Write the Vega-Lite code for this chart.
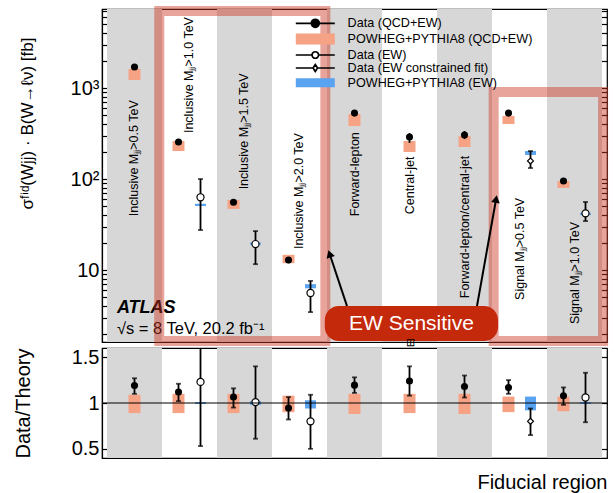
{
  "$schema": "https://vega.github.io/schema/vega-lite/v6.json",
  "padding": {"left": 12, "top": 0, "right": 3, "bottom": 0},
  "spacing": 6,
  "bounds": "flush",
  "config": {
    "font": "Liberation Sans",
    "view": {"stroke": "black", "strokeWidth": 1.2},
    "axis": {"grid": false, "domainColor": "black", "tickColor": "black", "labelColor": "black", "titleColor": "black", "titleFontWeight": "normal", "labelFont": "Liberation Sans", "titleFont": "Liberation Sans"},
    "text": {"font": "Liberation Sans"}
  },
  "datasets": {
    "cats": [
      {"cat": "Inclusive Mⱼⱼ>0.5 TeV", "shade": true, "ly": 39},
      {"cat": "Inclusive Mⱼⱼ>1.0 TeV", "shade": false, "ly": 320},
      {"cat": "Inclusive Mⱼⱼ>1.5 TeV", "shade": true, "ly": 77},
      {"cat": "Inclusive Mⱼⱼ>2.0 TeV", "shade": false, "ly": 17},
      {"cat": "Forward-lepton", "shade": true, "ly": 39},
      {"cat": "Central-jet", "shade": false, "ly": 41},
      {"cat": "Forward-lepton/central-jet", "shade": true, "ly": 4.9},
      {"cat": "Signal Mⱼⱼ>0.5 TeV", "shade": false, "ly": 4.7},
      {"cat": "Signal Mⱼⱼ>1.0 TeV", "shade": true, "ly": 2.55}
    ],
    "xs": [
      {"cat": "Inclusive Mⱼⱼ>0.5 TeV", "series": "Data (QCD+EW)", "slot": "C", "v": 1700, "lo": 1640, "hi": 1760},
      {"cat": "Inclusive Mⱼⱼ>0.5 TeV", "series": "POWHEG+PYTHIA8 (QCD+EW)", "slot": "C", "lo": 1225, "hi": 1620},
      {"cat": "Inclusive Mⱼⱼ>1.0 TeV", "series": "Data (QCD+EW)", "slot": "L", "v": 255, "lo": 243, "hi": 268},
      {"cat": "Inclusive Mⱼⱼ>1.0 TeV", "series": "POWHEG+PYTHIA8 (QCD+EW)", "slot": "L", "lo": 203, "hi": 262},
      {"cat": "Inclusive Mⱼⱼ>1.0 TeV", "series": "Data (EW)", "slot": "R", "v": 63, "lo": 27.5, "hi": 100},
      {"cat": "Inclusive Mⱼⱼ>1.0 TeV", "series": "POWHEG+PYTHIA8 (EW)", "slot": "R", "lo": 50.5, "hi": 53.5},
      {"cat": "Inclusive Mⱼⱼ>1.5 TeV", "series": "Data (QCD+EW)", "slot": "L", "v": 55.5, "lo": 52, "hi": 59},
      {"cat": "Inclusive Mⱼⱼ>1.5 TeV", "series": "POWHEG+PYTHIA8 (QCD+EW)", "slot": "L", "lo": 47, "hi": 59},
      {"cat": "Inclusive Mⱼⱼ>1.5 TeV", "series": "Data (EW)", "slot": "R", "v": 19.3, "lo": 11.6, "hi": 26.8},
      {"cat": "Inclusive Mⱼⱼ>1.5 TeV", "series": "POWHEG+PYTHIA8 (EW)", "slot": "R", "lo": 19.0, "hi": 20.0},
      {"cat": "Inclusive Mⱼⱼ>2.0 TeV", "series": "Data (QCD+EW)", "slot": "L", "v": 12.9, "lo": 11.9, "hi": 13.9},
      {"cat": "Inclusive Mⱼⱼ>2.0 TeV", "series": "POWHEG+PYTHIA8 (QCD+EW)", "slot": "L", "lo": 11.9, "hi": 14.7},
      {"cat": "Inclusive Mⱼⱼ>2.0 TeV", "series": "Data (EW)", "slot": "R", "v": 5.6, "lo": 3.45, "hi": 7.6},
      {"cat": "Inclusive Mⱼⱼ>2.0 TeV", "series": "POWHEG+PYTHIA8 (EW)", "slot": "R", "lo": 6.3, "hi": 7.0},
      {"cat": "Forward-lepton", "series": "Data (QCD+EW)", "slot": "C", "v": 530, "lo": 505, "hi": 556},
      {"cat": "Forward-lepton", "series": "POWHEG+PYTHIA8 (QCD+EW)", "slot": "C", "lo": 382, "hi": 518},
      {"cat": "Central-jet", "series": "Data (QCD+EW)", "slot": "C", "v": 290, "lo": 250, "hi": 320},
      {"cat": "Central-jet", "series": "POWHEG+PYTHIA8 (QCD+EW)", "slot": "C", "lo": 198, "hi": 262},
      {"cat": "Forward-lepton/central-jet", "series": "Data (QCD+EW)", "slot": "C", "v": 305, "lo": 275, "hi": 337},
      {"cat": "Forward-lepton/central-jet", "series": "POWHEG+PYTHIA8 (QCD+EW)", "slot": "C", "lo": 225, "hi": 297},
      {"cat": "Signal Mⱼⱼ>0.5 TeV", "series": "Data (QCD+EW)", "slot": "L", "v": 530, "lo": 505, "hi": 556},
      {"cat": "Signal Mⱼⱼ>0.5 TeV", "series": "POWHEG+PYTHIA8 (QCD+EW)", "slot": "L", "lo": 402, "hi": 493},
      {"cat": "Signal Mⱼⱼ>0.5 TeV", "series": "Data (EW constrained fit)", "slot": "R", "v": 158, "lo": 132, "hi": 203},
      {"cat": "Signal Mⱼⱼ>0.5 TeV", "series": "POWHEG+PYTHIA8 (EW)", "slot": "R", "lo": 184, "hi": 203},
      {"cat": "Signal Mⱼⱼ>1.0 TeV", "series": "Data (QCD+EW)", "slot": "L", "v": 95, "lo": 89, "hi": 101},
      {"cat": "Signal Mⱼⱼ>1.0 TeV", "series": "POWHEG+PYTHIA8 (QCD+EW)", "slot": "L", "lo": 80, "hi": 95},
      {"cat": "Signal Mⱼⱼ>1.0 TeV", "series": "Data (EW)", "slot": "R", "v": 42, "lo": 34.5, "hi": 56},
      {"cat": "Signal Mⱼⱼ>1.0 TeV", "series": "POWHEG+PYTHIA8 (EW)", "slot": "R", "lo": 40.2, "hi": 42.2}
    ],
    "ratio": [
      {"cat": "Inclusive Mⱼⱼ>0.5 TeV", "series": "Data (QCD+EW)", "slot": "C", "v": 1.19, "lo": 1.10, "hi": 1.27},
      {"cat": "Inclusive Mⱼⱼ>0.5 TeV", "series": "POWHEG+PYTHIA8 (QCD+EW)", "slot": "C", "lo": 0.89, "hi": 1.09},
      {"cat": "Inclusive Mⱼⱼ>1.0 TeV", "series": "Data (QCD+EW)", "slot": "L", "v": 1.12, "lo": 1.02, "hi": 1.21},
      {"cat": "Inclusive Mⱼⱼ>1.0 TeV", "series": "POWHEG+PYTHIA8 (QCD+EW)", "slot": "L", "lo": 0.89, "hi": 1.10},
      {"cat": "Inclusive Mⱼⱼ>1.0 TeV", "series": "Data (EW)", "slot": "R", "v": 1.23, "lo": 0.53, "hi": 1.9},
      {"cat": "Inclusive Mⱼⱼ>1.0 TeV", "series": "POWHEG+PYTHIA8 (EW)", "slot": "R", "lo": 0.99, "hi": 1.01},
      {"cat": "Inclusive Mⱼⱼ>1.5 TeV", "series": "Data (QCD+EW)", "slot": "L", "v": 1.065, "lo": 0.95, "hi": 1.16},
      {"cat": "Inclusive Mⱼⱼ>1.5 TeV", "series": "POWHEG+PYTHIA8 (QCD+EW)", "slot": "L", "lo": 0.89, "hi": 1.10},
      {"cat": "Inclusive Mⱼⱼ>1.5 TeV", "series": "Data (EW)", "slot": "R", "v": 1.01, "lo": 0.61, "hi": 1.40},
      {"cat": "Inclusive Mⱼⱼ>1.5 TeV", "series": "POWHEG+PYTHIA8 (EW)", "slot": "R", "lo": 0.98, "hi": 1.02},
      {"cat": "Inclusive Mⱼⱼ>2.0 TeV", "series": "Data (QCD+EW)", "slot": "L", "v": 0.945, "lo": 0.82, "hi": 1.065},
      {"cat": "Inclusive Mⱼⱼ>2.0 TeV", "series": "POWHEG+PYTHIA8 (QCD+EW)", "slot": "L", "lo": 0.90, "hi": 1.08},
      {"cat": "Inclusive Mⱼⱼ>2.0 TeV", "series": "Data (EW)", "slot": "R", "v": 0.80, "lo": 0.50, "hi": 1.09},
      {"cat": "Inclusive Mⱼⱼ>2.0 TeV", "series": "POWHEG+PYTHIA8 (EW)", "slot": "R", "lo": 0.94, "hi": 1.03},
      {"cat": "Forward-lepton", "series": "Data (QCD+EW)", "slot": "C", "v": 1.195, "lo": 1.11, "hi": 1.28},
      {"cat": "Forward-lepton", "series": "POWHEG+PYTHIA8 (QCD+EW)", "slot": "C", "lo": 0.88, "hi": 1.10},
      {"cat": "Central-jet", "series": "Data (QCD+EW)", "slot": "C", "v": 1.24, "lo": 1.08, "hi": 1.40},
      {"cat": "Central-jet", "series": "POWHEG+PYTHIA8 (QCD+EW)", "slot": "C", "lo": 0.89, "hi": 1.10},
      {"cat": "Forward-lepton/central-jet", "series": "Data (QCD+EW)", "slot": "C", "v": 1.18, "lo": 1.06, "hi": 1.30},
      {"cat": "Forward-lepton/central-jet", "series": "POWHEG+PYTHIA8 (QCD+EW)", "slot": "C", "lo": 0.88, "hi": 1.10},
      {"cat": "Signal Mⱼⱼ>0.5 TeV", "series": "Data (QCD+EW)", "slot": "L", "v": 1.17, "lo": 1.10, "hi": 1.25},
      {"cat": "Signal Mⱼⱼ>0.5 TeV", "series": "POWHEG+PYTHIA8 (QCD+EW)", "slot": "L", "lo": 0.90, "hi": 1.07},
      {"cat": "Signal Mⱼⱼ>0.5 TeV", "series": "Data (EW constrained fit)", "slot": "R", "v": 0.80, "lo": 0.65, "hi": 0.94},
      {"cat": "Signal Mⱼⱼ>0.5 TeV", "series": "POWHEG+PYTHIA8 (EW)", "slot": "R", "lo": 0.92, "hi": 1.07},
      {"cat": "Signal Mⱼⱼ>1.0 TeV", "series": "Data (QCD+EW)", "slot": "L", "v": 1.08, "lo": 0.98, "hi": 1.17},
      {"cat": "Signal Mⱼⱼ>1.0 TeV", "series": "POWHEG+PYTHIA8 (QCD+EW)", "slot": "L", "lo": 0.91, "hi": 1.07},
      {"cat": "Signal Mⱼⱼ>1.0 TeV", "series": "Data (EW)", "slot": "R", "v": 1.06, "lo": 0.79, "hi": 1.33},
      {"cat": "Signal Mⱼⱼ>1.0 TeV", "series": "POWHEG+PYTHIA8 (EW)", "slot": "R", "lo": 0.99, "hi": 1.01}
    ]
  },
  "vconcat": [
    {
      "width": 505,
      "height": 333,
      "resolve": {"scale": {"x": "independent"}, "axis": {"x": "independent", "y": "independent"}},
      "layer": [
        {
          "encoding": {
            "x": {"field": "cat", "type": "nominal", "axis": null,
                  "scale": {"domain": ["Inclusive Mⱼⱼ>0.5 TeV", "Inclusive Mⱼⱼ>1.0 TeV", "Inclusive Mⱼⱼ>1.5 TeV", "Inclusive Mⱼⱼ>2.0 TeV", "Forward-lepton", "Central-jet", "Forward-lepton/central-jet", "Signal Mⱼⱼ>0.5 TeV", "Signal Mⱼⱼ>1.0 TeV"], "paddingInner": 0, "paddingOuter": 0.0909}}
          },
          "layer": [
            {"data": {"name": "cats"}, "transform": [{"filter": "datum.shade"}], "mark": {"type": "rect", "color": "#d7d7d7"}},
            {"data": {"name": "xs"}, "transform": [{"filter": "datum.series == 'POWHEG+PYTHIA8 (QCD+EW)'"}],
             "mark": {"type": "bar", "width": 12, "color": "#f5a285"},
             "encoding": {"xOffset": {"field": "slot", "type": "nominal", "scale": {"domain": ["L", "C", "R"], "paddingInner": 0, "paddingOuter": 3.5}},
                          "y": {"field": "lo", "type": "quantitative", "scale": {"type": "log", "domain": [1.62, 7380], "nice": false}}, "y2": {"field": "hi"}}},
            {"data": {"name": "xs"}, "transform": [{"filter": "datum.series == 'POWHEG+PYTHIA8 (EW)'"}],
             "mark": {"type": "bar", "width": 11, "color": "#5aa3f0"},
             "encoding": {"xOffset": {"field": "slot", "type": "nominal", "scale": {"domain": ["L", "C", "R"], "paddingInner": 0, "paddingOuter": 3.5}},
                          "y": {"field": "lo", "type": "quantitative", "scale": {"type": "log", "domain": [1.62, 7380], "nice": false}}, "y2": {"field": "hi"}}},
            {"data": {"name": "xs"}, "transform": [{"filter": "isValid(datum.v)"}],
             "mark": {"type": "rule", "color": "black", "strokeWidth": 1.8},
             "encoding": {"xOffset": {"field": "slot", "type": "nominal", "scale": {"domain": ["L", "C", "R"], "paddingInner": 0, "paddingOuter": 3.5}},
                          "y": {"field": "lo", "type": "quantitative", "scale": {"type": "log", "domain": [1.62, 7380], "nice": false}}, "y2": {"field": "hi"}}},
            {"data": {"name": "xs"}, "transform": [{"filter": "isValid(datum.v) && datum.series != 'Data (QCD+EW)'"}],
             "mark": {"type": "tick", "color": "black", "size": 5, "thickness": 1.8},
             "encoding": {"xOffset": {"field": "slot", "type": "nominal", "scale": {"domain": ["L", "C", "R"], "paddingInner": 0, "paddingOuter": 3.5}},
                          "y": {"field": "lo", "type": "quantitative", "scale": {"type": "log", "domain": [1.62, 7380], "nice": false}}}},
            {"data": {"name": "xs"}, "transform": [{"filter": "isValid(datum.v) && datum.series != 'Data (QCD+EW)'"}],
             "mark": {"type": "tick", "color": "black", "size": 5, "thickness": 1.8},
             "encoding": {"xOffset": {"field": "slot", "type": "nominal", "scale": {"domain": ["L", "C", "R"], "paddingInner": 0, "paddingOuter": 3.5}},
                          "y": {"field": "hi", "type": "quantitative", "scale": {"type": "log", "domain": [1.62, 7380], "nice": false}}}},
            {"data": {"name": "xs"}, "transform": [{"filter": "datum.series == 'Data (QCD+EW)'"}],
             "mark": {"type": "point", "shape": "circle", "filled": true, "color": "black", "size": 50, "opacity": 1},
             "encoding": {"xOffset": {"field": "slot", "type": "nominal", "scale": {"domain": ["L", "C", "R"], "paddingInner": 0, "paddingOuter": 3.5}},
                          "y": {"field": "v", "type": "quantitative", "scale": {"type": "log", "domain": [1.62, 7380], "nice": false},
                                "axis": {"orient": "left", "values": [2,3,4,5,6,7,8,9,10,20,30,40,50,60,70,80,90,100,200,300,400,500,600,700,800,900,1000,2000,3000,4000,5000,6000,7000],
                                         "labelExpr": "datum.value == 1000 ? '10³' : datum.value == 100 ? '10²' : datum.value == 10 ? '10' : ''",
                                         "tickSize": {"condition": {"test": "datum.value == 10 || datum.value == 100 || datum.value == 1000", "value": -15}, "value": -8},
                                         "tickWidth": 1.2, "domainWidth": 1.2, "labelFontSize": 20, "labelPadding": 18, "labelOverlap": false, "labelFlush": false,
                                         "title": "σᶠⁱᵈ(Wjj) · B(W→ℓν) [fb]", "titleFontSize": 17, "titleY": 114, "titlePadding": 34}}}},
            {"data": {"name": "xs"}, "transform": [{"filter": "datum.series == 'Data (EW)'"}],
             "mark": {"type": "point", "shape": "circle", "filled": true, "fill": "white", "stroke": "black", "strokeWidth": 1.2, "size": 50, "opacity": 1},
             "encoding": {"xOffset": {"field": "slot", "type": "nominal", "scale": {"domain": ["L", "C", "R"], "paddingInner": 0, "paddingOuter": 3.5}},
                          "y": {"field": "v", "type": "quantitative", "scale": {"type": "log", "domain": [1.62, 7380], "nice": false}}}},
            {"data": {"name": "xs"}, "transform": [{"filter": "datum.series == 'Data (EW constrained fit)'"}],
             "mark": {"type": "point", "shape": "diamond", "filled": true, "fill": "white", "stroke": "black", "strokeWidth": 1.2, "size": 35, "opacity": 1},
             "encoding": {"xOffset": {"field": "slot", "type": "nominal", "scale": {"domain": ["L", "C", "R"], "paddingInner": 0, "paddingOuter": 3.5}},
                          "y": {"field": "v", "type": "quantitative", "scale": {"type": "log", "domain": [1.62, 7380], "nice": false}}}},
            {"data": {"name": "cats"},
             "mark": {"type": "text", "angle": 270, "align": "left", "baseline": "middle", "fontSize": 12.5, "color": "black"},
             "encoding": {"y": {"field": "ly", "type": "quantitative", "scale": {"type": "log", "domain": [1.62, 7380], "nice": false}}, "text": {"field": "cat"}}},
            {"data": {"values": [{"series": "Data (QCD+EW)"}]}, "transform": [{"filter": "false"}],
             "mark": {"type": "point", "filled": true},
             "encoding": {
               "shape": {"field": "series", "type": "nominal",
                         "scale": {"domain": ["Data (QCD+EW)", "POWHEG+PYTHIA8 (QCD+EW)", "Data (EW)", "Data (EW constrained fit)", "POWHEG+PYTHIA8 (EW)"],
                                   "range": ["M-3.9,0H3.9M0.8,0A0.8,0.8,0,1,1,-0.8,0A0.8,0.8,0,1,1,0.8,0Z", "M-3.9,-1.1H3.9V1.1H-3.9Z", "M-3.9,0H-0.65M0.65,0H3.9M0.65,0A0.65,0.65,0,1,1,-0.65,0A0.65,0.65,0,1,1,0.65,0Z", "M-3.9,0H-0.45M0.45,0H3.9M0.45,0L0,-0.7L-0.45,0L0,0.7Z", "M-3.9,-0.9H3.9V0.9H-3.9Z"]},
                         "legend": {"title": null, "orient": "none", "legendX": 207, "legendY": 8, "symbolSize": 100, "symbolStrokeWidth": 1.7, "labelFontSize": 12.6, "labelFont": "Liberation Sans", "labelColor": "black", "labelOffset": 26, "rowPadding": -1.3, "padding": 0, "symbolOpacity": 1, "labelLimit": 300}},
               "fill": {"field": "series", "type": "nominal",
                        "scale": {"domain": ["Data (QCD+EW)", "POWHEG+PYTHIA8 (QCD+EW)", "Data (EW)", "Data (EW constrained fit)", "POWHEG+PYTHIA8 (EW)"],
                                  "range": ["black", "#f5a285", "white", "white", "#5aa3f0"]},
                        "legend": {"title": null, "orient": "none", "legendX": 207, "legendY": 8, "symbolSize": 100, "symbolStrokeWidth": 1.7, "labelFontSize": 12.6, "labelFont": "Liberation Sans", "labelColor": "black", "labelOffset": 26, "rowPadding": -1.3, "padding": 0, "symbolOpacity": 1, "labelLimit": 300}},
               "stroke": {"field": "series", "type": "nominal",
                          "scale": {"domain": ["Data (QCD+EW)", "POWHEG+PYTHIA8 (QCD+EW)", "Data (EW)", "Data (EW constrained fit)", "POWHEG+PYTHIA8 (EW)"],
                                    "range": ["black", "rgba(0,0,0,0)", "black", "black", "rgba(0,0,0,0)"]},
                          "legend": {"title": null, "orient": "none", "legendX": 207, "legendY": 8, "symbolSize": 100, "symbolStrokeWidth": 1.7, "labelFontSize": 12.6, "labelFont": "Liberation Sans", "labelColor": "black", "labelOffset": 26, "rowPadding": -1.3, "padding": 0, "symbolOpacity": 1, "labelLimit": 300}}
             }}
          ]
        },
        {
          "encoding": {
            "x": {"field": "x", "type": "quantitative", "axis": null, "scale": {"domain": [-0.0909, 9.0909], "nice": false, "zero": false}},
            "y": {"field": "y", "type": "quantitative", "scale": {"type": "log", "domain": [1.62, 7380], "nice": false},
                  "axis": {"orient": "right", "title": null, "labels": false, "domain": false,
                           "values": [2,3,4,5,6,7,8,9,10,20,30,40,50,60,70,80,90,100,200,300,400,500,600,700,800,900,1000,2000,3000,4000,5000,6000,7000],
                           "tickSize": {"condition": {"test": "datum.value == 10 || datum.value == 100 || datum.value == 1000", "value": -15}, "value": -8}, "tickWidth": 1.2}}
          },
          "layer": [
            {"data": {"values": [{"x": 0.18, "y": 3.41, "t": "ATLAS"}]},
             "mark": {"type": "text", "align": "left", "baseline": "alphabetic", "fontSize": 18, "fontWeight": "bold", "fontStyle": "italic", "color": "black"},
             "encoding": {"text": {"field": "t"}}},
            {"data": {"values": [{"x": 0.18, "y": 1.98, "t": "√s = 8 TeV, 20.2 fb⁻¹"}]},
             "mark": {"type": "text", "align": "left", "baseline": "alphabetic", "fontSize": 16.5, "color": "black"},
             "encoding": {"text": {"field": "t"}}},
            {"data": {"values": [{"x": 0.95, "x2": 3.97, "y": 7000, "y2": 1.66}, {"x": 7.03, "x2": 9.02, "y": 904, "y2": 1.66}]},
             "mark": {"type": "rect", "fill": "transparent", "stroke": "#cc3322", "strokeOpacity": 0.45, "strokeWidth": 10},
             "encoding": {"x2": {"field": "x2"}, "y2": {"field": "y2"}}},
            {"data": {"values": [{"a": "1", "x": 4.364, "y": 4.02}, {"a": "1", "x": 4.047, "y": 15.1}, {"a": "2", "x": 6.727, "y": 4.02}, {"a": "2", "x": 7.075, "y": 60.4}]},
             "mark": {"type": "line", "color": "black", "strokeWidth": 2},
             "encoding": {"detail": {"field": "a"}}},
            {"data": {"values": [{"x": 4.047, "y": 15.1}]},
             "mark": {"type": "point", "shape": "triangle-up", "filled": true, "color": "black", "size": 75, "angle": 341.6, "opacity": 1}},
            {"data": {"values": [{"x": 7.075, "y": 60.4}]},
             "mark": {"type": "point", "shape": "triangle-up", "filled": true, "color": "black", "size": 75, "angle": 10.1, "opacity": 1}},
            {"data": {"values": [{"x": 3.96, "x2": 7.11, "y": 4.02, "y2": 1.66}]},
             "mark": {"type": "rect", "color": "#c4290c", "cornerRadius": 14},
             "encoding": {"x2": {"field": "x2"}, "y2": {"field": "y2"}}},
            {"data": {"values": [{"x": 5.536, "y": 2.58, "t": "EW Sensitive"}]},
             "mark": {"type": "text", "align": "center", "baseline": "middle", "fontSize": 21, "color": "white"},
             "encoding": {"text": {"field": "t"}}},
            {"data": {"values": [{"x": 5.527, "y": 1.58, "t": "⊞"}]},
             "mark": {"type": "text", "align": "center", "baseline": "middle", "fontSize": 11, "color": "black"},
             "encoding": {"text": {"field": "t"}}}
          ]
        }
      ]
    },
    {
      "width": 505,
      "height": 110,
      "resolve": {"axis": {"y": "independent"}},
      "layer": [
        {
          "encoding": {
            "x": {"field": "cat", "type": "nominal",
                  "axis": {"title": "Fiducial region", "titleAnchor": "end", "titleFontSize": 20, "labels": false, "ticks": false, "domain": false, "titlePadding": 14},
                  "scale": {"domain": ["Inclusive Mⱼⱼ>0.5 TeV", "Inclusive Mⱼⱼ>1.0 TeV", "Inclusive Mⱼⱼ>1.5 TeV", "Inclusive Mⱼⱼ>2.0 TeV", "Forward-lepton", "Central-jet", "Forward-lepton/central-jet", "Signal Mⱼⱼ>0.5 TeV", "Signal Mⱼⱼ>1.0 TeV"], "paddingInner": 0, "paddingOuter": 0.0909}}
          },
          "layer": [
            {"data": {"name": "cats"}, "transform": [{"filter": "datum.shade"}], "mark": {"type": "rect", "color": "#d7d7d7"}},
            {"data": {"name": "ratio"}, "transform": [{"filter": "datum.series == 'POWHEG+PYTHIA8 (QCD+EW)'"}],
             "mark": {"type": "bar", "width": 12, "color": "#f5a285"},
             "encoding": {"xOffset": {"field": "slot", "type": "nominal", "scale": {"domain": ["L", "C", "R"], "paddingInner": 0, "paddingOuter": 3.5}},
                          "y": {"field": "lo", "type": "quantitative", "scale": {"domain": [0.4, 1.6], "nice": false, "zero": false}}, "y2": {"field": "hi"}}},
            {"data": {"name": "ratio"}, "transform": [{"filter": "datum.series == 'POWHEG+PYTHIA8 (EW)'"}],
             "mark": {"type": "bar", "width": 11, "color": "#5aa3f0"},
             "encoding": {"xOffset": {"field": "slot", "type": "nominal", "scale": {"domain": ["L", "C", "R"], "paddingInner": 0, "paddingOuter": 3.5}},
                          "y": {"field": "lo", "type": "quantitative", "scale": {"domain": [0.4, 1.6], "nice": false, "zero": false}}, "y2": {"field": "hi"}}},
            {"data": {"name": "ratio"}, "transform": [{"filter": "isValid(datum.v)"}],
             "mark": {"type": "rule", "color": "black", "strokeWidth": 1.8, "clip": true},
             "encoding": {"xOffset": {"field": "slot", "type": "nominal", "scale": {"domain": ["L", "C", "R"], "paddingInner": 0, "paddingOuter": 3.5}},
                          "y": {"field": "lo", "type": "quantitative", "scale": {"domain": [0.4, 1.6], "nice": false, "zero": false}}, "y2": {"field": "hi"}}},
            {"data": {"name": "ratio"}, "transform": [{"filter": "isValid(datum.v)"}],
             "mark": {"type": "tick", "color": "black", "size": 5, "thickness": 1.8, "clip": true},
             "encoding": {"xOffset": {"field": "slot", "type": "nominal", "scale": {"domain": ["L", "C", "R"], "paddingInner": 0, "paddingOuter": 3.5}},
                          "y": {"field": "lo", "type": "quantitative", "scale": {"domain": [0.4, 1.6], "nice": false, "zero": false}}}},
            {"data": {"name": "ratio"}, "transform": [{"filter": "isValid(datum.v)"}],
             "mark": {"type": "tick", "color": "black", "size": 5, "thickness": 1.8, "clip": true},
             "encoding": {"xOffset": {"field": "slot", "type": "nominal", "scale": {"domain": ["L", "C", "R"], "paddingInner": 0, "paddingOuter": 3.5}},
                          "y": {"field": "hi", "type": "quantitative", "scale": {"domain": [0.4, 1.6], "nice": false, "zero": false}}}},
            {"data": {"name": "ratio"}, "transform": [{"filter": "datum.series == 'Data (QCD+EW)'"}],
             "mark": {"type": "point", "shape": "circle", "filled": true, "color": "black", "size": 50, "opacity": 1},
             "encoding": {"xOffset": {"field": "slot", "type": "nominal", "scale": {"domain": ["L", "C", "R"], "paddingInner": 0, "paddingOuter": 3.5}},
                          "y": {"field": "v", "type": "quantitative", "scale": {"domain": [0.4, 1.6], "nice": false, "zero": false},
                                "axis": {"orient": "left", "values": [0.5, 1, 1.5], "labelExpr": "datum.value == 1 ? '1' : format(datum.value, '.1f')",
                                         "tickSize": -13, "tickWidth": 1.2, "domainWidth": 1.2, "labelFontSize": 20, "labelPadding": 16, "labelFlush": false,
                                         "title": "Data/Theory", "titleFontSize": 20, "titlePadding": 38}}}},
            {"data": {"name": "ratio"}, "transform": [{"filter": "datum.series == 'Data (EW)'"}],
             "mark": {"type": "point", "shape": "circle", "filled": true, "fill": "white", "stroke": "black", "strokeWidth": 1.2, "size": 50, "opacity": 1},
             "encoding": {"xOffset": {"field": "slot", "type": "nominal", "scale": {"domain": ["L", "C", "R"], "paddingInner": 0, "paddingOuter": 3.5}},
                          "y": {"field": "v", "type": "quantitative", "scale": {"domain": [0.4, 1.6], "nice": false, "zero": false}}}},
            {"data": {"name": "ratio"}, "transform": [{"filter": "datum.series == 'Data (EW constrained fit)'"}],
             "mark": {"type": "point", "shape": "diamond", "filled": true, "fill": "white", "stroke": "black", "strokeWidth": 1.2, "size": 35, "opacity": 1},
             "encoding": {"xOffset": {"field": "slot", "type": "nominal", "scale": {"domain": ["L", "C", "R"], "paddingInner": 0, "paddingOuter": 3.5}},
                          "y": {"field": "v", "type": "quantitative", "scale": {"domain": [0.4, 1.6], "nice": false, "zero": false}}}}
          ]
        },
        {
          "data": {"values": [{"one": 1}]},
          "mark": {"type": "rule", "color": "black", "strokeWidth": 1},
          "encoding": {"y": {"field": "one", "type": "quantitative", "scale": {"domain": [0.4, 1.6], "nice": false, "zero": false},
                             "axis": {"orient": "right", "title": null, "labels": false, "domain": false, "values": [0.5, 1, 1.5], "tickSize": -14, "tickWidth": 1.2}}}
        }
      ]
    }
  ],
  "resolve": {"scale": {"shape": "independent", "fill": "independent", "stroke": "independent"}}
}
